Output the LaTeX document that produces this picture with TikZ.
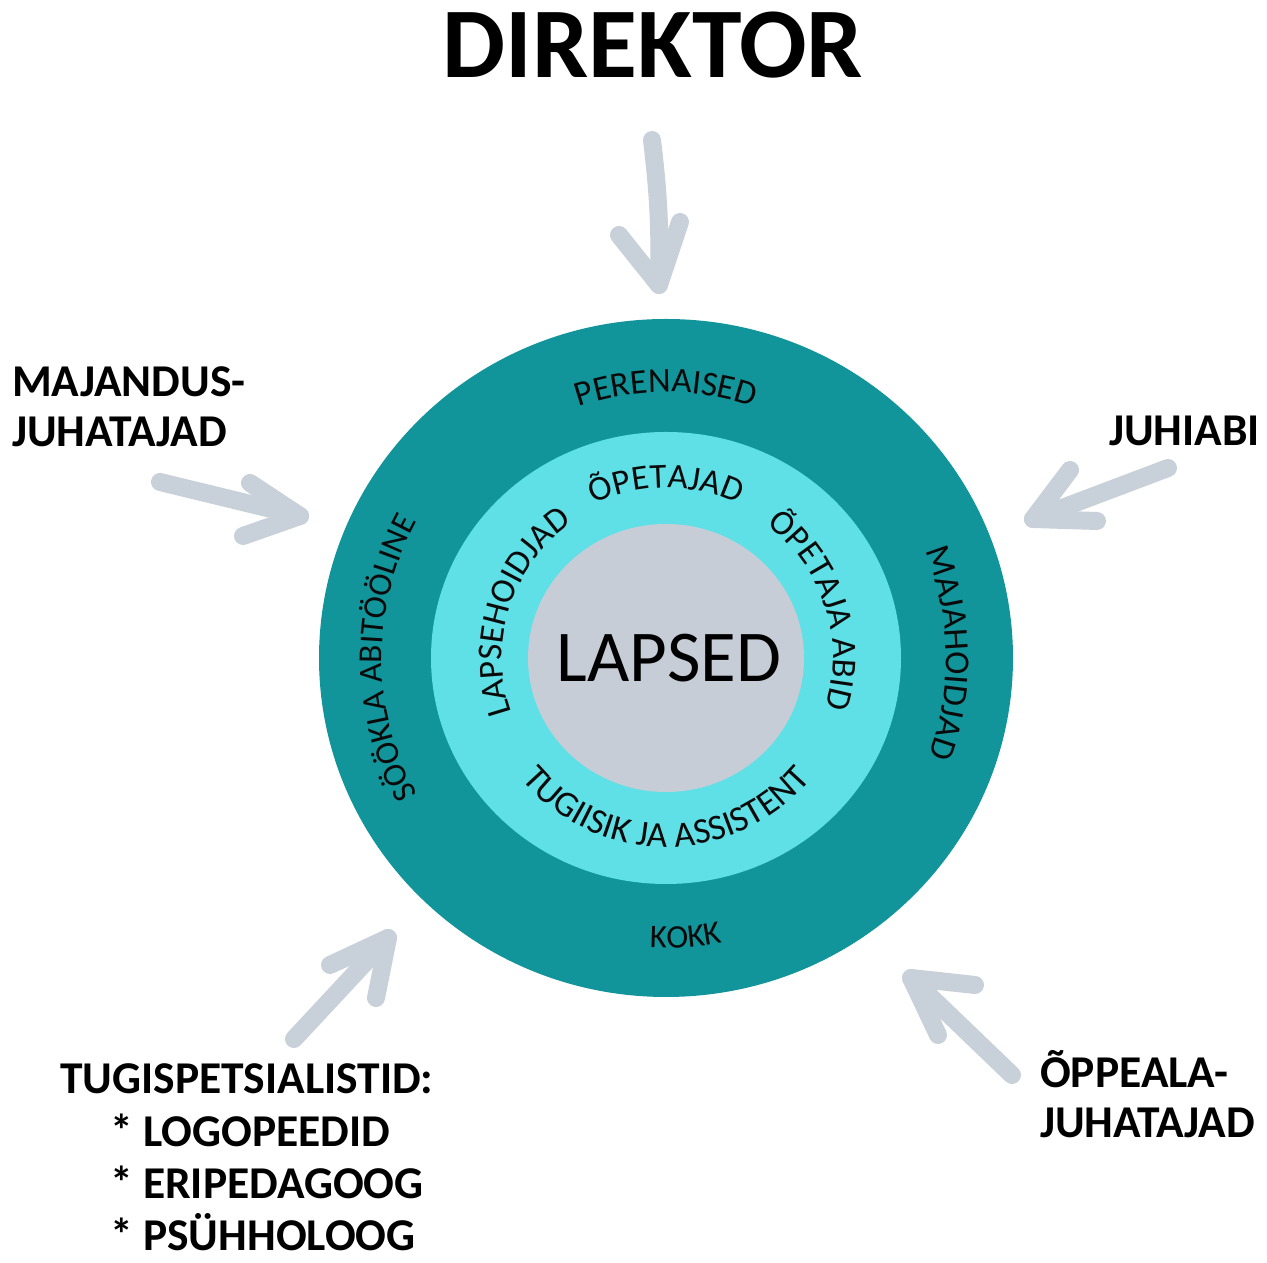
\documentclass[tikz,border=0pt]{standalone}
\usepackage{fontspec}
\setmainfont{Carlito}
\usetikzlibrary{decorations.text}
\definecolor{ringdark}{HTML}{11959B}
\definecolor{ringlight}{HTML}{5EE0E6}
\definecolor{coregrey}{HTML}{C7CDD7}
\definecolor{arrowgrey}{HTML}{C8D0DA}
\definecolor{inktext}{HTML}{0A0A0A}
\newcommand\ringlabel[3]{%
  \path[ringtext, decoration={text={|\fontsize{#1}{#1}\selectfont|#2}}] #3;}
\begin{document}
\begin{tikzpicture}[x=1pt,y=1pt,
  lbl/.style={font=\fontsize{45.5}{45.5}\selectfont\bfseries, inner sep=0pt, text=black},
  handarrow/.style={draw=arrowgrey, line width=18pt, line cap=round, line join=round},
  ringtext/.style={decorate, decoration={text along path, text align=center, text color=inktext}}
]
\useasboundingbox (0,0) rectangle (1267,1263);

% title
\node[font=\fontsize{100}{100}\selectfont\bfseries, anchor=base, inner sep=0pt] (dir) at (653,1185) {DIREKTOR};

% circles
\coordinate (c) at (666,605);
\fill[ringdark] (c) ellipse[x radius=347, y radius=339];
\fill[ringlight] (c) ellipse[x radius=235, y radius=226];
\fill[coregrey] (c) ellipse[x radius=138, y radius=134];
\node[font=\fontsize{73}{73}\selectfont, inner sep=0pt] (lapsed) at (669,605) {LAPSED};

\begin{scope}[shift={(666,605)}]
% outer ring texts
\ringlabel{35}{PERENAISED}{(130:266) arc[start angle=130, end angle=50, radius=266]}
\ringlabel{35}{MAJAHOIDJAD}{(46:280) arc[start angle=46, end angle=-44, radius=280]}
\ringlabel{33.5}{SÖÖKLA ABITÖÖLINE}{(235:284) arc[start angle=235, end angle=125, radius=284]}
\ringlabel{33}{KOKK}{(252:290) arc[start angle=252, end angle=296, radius=290]}
% middle ring texts
\ringlabel{35}{ÕPETAJAD}{(125:170) arc[start angle=125, end angle=55, radius=170]}
\ringlabel{35}{ÕPETAJA ABID}{(66:167) arc[start angle=66, end angle=-30, radius=167]}
\ringlabel{35}{LAPSEHOIDJAD}{(212:164) arc[start angle=212, end angle=112, radius=164]}
\ringlabel{36}{TUGIISIK JA ASSISTENT}{(195:189) arc[start angle=195, end angle=345, radius=189]}
\end{scope}

% labels
\node[lbl, anchor=base west] (maj1) at (12,866) {MAJANDUS-};
\node[lbl, anchor=base west] (maj2) at (12,816) {JUHATAJAD};
\node[lbl, anchor=base east] (juh) at (1260,817) {JUHIABI};
\node[lbl, anchor=base west] (opp1) at (1040,175) {ÕPPEALA-};
\node[lbl, anchor=base west] (opp2) at (1040,125) {JUHATAJAD};
\node[lbl, anchor=base west] (tug0) at (60,169) {TUGISPETSIALISTID:};
\node[lbl, anchor=base west] (tug1) at (110,116) {* LOGOPEEDID};
\node[lbl, anchor=base west] (tug2) at (110,64) {* ERIPEDAGOOG};
\node[lbl, anchor=base west] (tug3) at (110,12) {* PSÜHHOLOOG};

% arrows (hand-drawn style)
\coordinate (topTail) at (652,1123);
\coordinate (topTip) at (659,978);
\coordinate (topW1) at (619,1028);
\coordinate (topW2) at (680,1041);
\draw[handarrow] (topTail) to[bend left=4] (topTip);
\draw[handarrow] (topW1) -- (topTip) -- (topW2);

\coordinate (lTail) at (160,781);
\coordinate (lTip) at (300,747);
\coordinate (lW1) at (250,780);
\coordinate (lW2) at (243,727);
\draw[handarrow] (lTail) -- (lTip);
\draw[handarrow] (lW1) -- (lTip) -- (lW2);

\coordinate (rTail) at (1168,795);
\coordinate (rTip) at (1033,744);
\coordinate (rW1) at (1070,793);
\coordinate (rW2) at (1097,742);
\draw[handarrow] (rTail) -- (rTip);
\draw[handarrow] (rW1) -- (rTip) -- (rW2);

\coordinate (blTail) at (294,224);
\coordinate (blTip) at (388,325);
\coordinate (blW1) at (330,298);
\coordinate (blW2) at (376,265);
\draw[handarrow] (blTail) -- (blTip);
\draw[handarrow] (blW1) -- (blTip) -- (blW2);

\coordinate (brTail) at (1012,188);
\coordinate (brTip) at (911,285);
\coordinate (brW1) at (975,278);
\coordinate (brW2) at (938,228);
\draw[handarrow] (brTail) -- (brTip);
\draw[handarrow] (brW1) -- (brTip) -- (brW2);
\end{tikzpicture}
\end{document}
